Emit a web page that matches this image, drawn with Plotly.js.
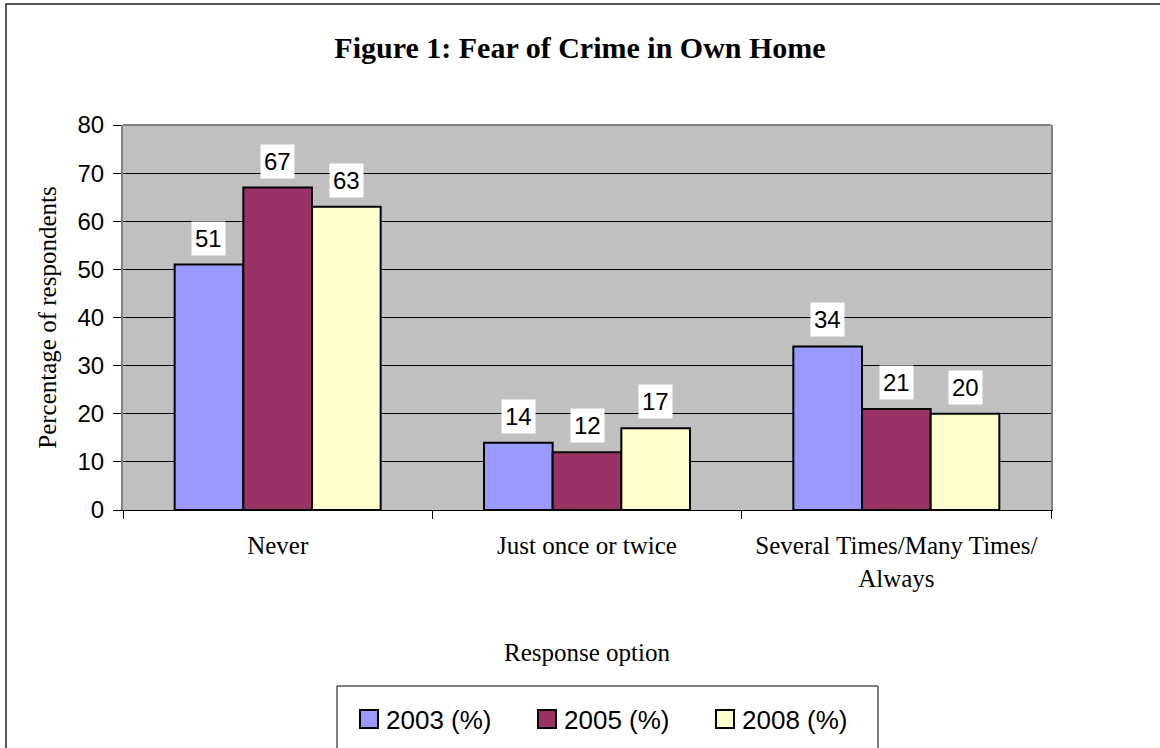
<!DOCTYPE html>
<html>
<head>
<meta charset="utf-8">
<script src="https://cdn.plot.ly/plotly-3.0.1.min.js"></script>
<style>html,body{margin:0;padding:0;background:#fff;}#chart{width:1160px;height:748px;}</style>
</head>
<body>
<div id="chart"></div>
<script>
// ---- data ----
const categories = ["Never", "Just once or twice", "Several Times/Many Times/<br>Always"];
const seriesNames = ["2003 (%)", "2005 (%)", "2008 (%)"];
const values2003 = [51, 14, 34];
const values2005 = [67, 12, 21];
const values2008 = [63, 17, 20];
const yTicks = [0, 10, 20, 30, 40, 50, 60, 70, 80];

// ---- styles ----
const seriesValues = [values2003, values2005, values2008];
const colors = ["#9999FF", "#993366", "#FFFFCC"];
const serif = "Liberation Serif, Times New Roman, serif";
const sans = "Arial, Liberation Sans, sans-serif";
const bargap = 0.334;

const traces = seriesValues.map((vals, i) => ({
  type: "bar",
  name: seriesNames[i],
  x: categories,
  y: vals,
  marker: { color: colors[i], line: { color: "#000", width: 2 } },
  hoverinfo: "skip"
}));

const barW = (1 - bargap) / seriesValues.length;
const annotations = [];
seriesValues.forEach((vals, i) => {
  vals.forEach((v, c) => {
    annotations.push({
      xref: "x", yref: "y",
      x: c + (i - (seriesValues.length - 1) / 2) * barW,
      y: v,
      text: String(v),
      showarrow: false,
      yanchor: "bottom",
      yshift: 9,
      bgcolor: "#FFFFFF",
      borderpad: 3,
      font: { family: sans, size: 24, color: "#000" }
    });
  });
});

const layout = {
  width: 1160, height: 748,
  margin: { l: 123, r: 109, t: 125, b: 238, pad: 0 },
  paper_bgcolor: "#FFFFFF",
  plot_bgcolor: "#C0C0C0",
  font: { family: sans, color: "#000" },
  barmode: "group",
  bargap: bargap,
  bargroupgap: 0,
  showlegend: true,
  title: {
    text: "Figure 1: Fear of Crime in Own Home",
    font: { family: serif, size: 30, weight: "bold", color: "#000" },
    xref: "container", x: 0.5, xanchor: "center",
    yref: "container", y: 1 - 47 / 748, yanchor: "middle"
  },
  xaxis: {
    type: "category",
    tickson: "boundaries",
    ticks: "outside", ticklen: 8, tickcolor: "#000", tickwidth: 1,
    showline: true, linecolor: "#000", linewidth: 1,
    showgrid: false, zeroline: false,
    tickfont: { family: serif, size: 25, color: "#000" },
    ticklabelstandoff: 13,
    title: { text: "Response option", font: { family: serif, size: 25, color: "#000" }, standoff: 52 },
    fixedrange: true
  },
  yaxis: {
    range: [0, 80],
    tickvals: yTicks,
    ticks: "outside", ticklen: 8, tickcolor: "#000", tickwidth: 1,
    showline: true, mirror: true, linecolor: "#808080", linewidth: 2,
    showgrid: true, gridcolor: "#000", gridwidth: 1,
    zeroline: false,
    tickfont: { family: sans, size: 24, color: "#000" },
    ticklabelstandoff: 4,
    title: { text: "Percentage of respondents", font: { family: serif, size: 25, color: "#000" }, standoff: 14 },
    fixedrange: true
  },
  legend: {
    orientation: "h",
    xref: "container", x: 613 / 1160, xanchor: "center",
    yref: "container", y: 1 - 719 / 748, yanchor: "middle",
    font: { family: sans, size: 26, color: "#000" },
    bgcolor: "rgba(0,0,0,0)", borderwidth: 0,
    entrywidth: 133, entrywidthmode: "pixels",
    traceorder: "normal"
  },
  annotations: annotations,
  shapes: [
    // plot area top edge (gray frame)
    { type: "line", xref: "paper", yref: "paper", x0: 0, x1: 1, y0: 1, y1: 1,
      line: { color: "#808080", width: 2 }, layer: "above" },
    // outer chart frame
    { type: "rect", xref: "paper", yref: "paper",
      x0: (6 - 123) / 928, x1: (1175 - 123) / 928,
      y0: (510 - 4) / 385, y1: (510 - 770) / 385,
      line: { color: "#222", width: 1.5 }, fillcolor: "rgba(0,0,0,0)", layer: "above" },
    // legend frame
    { type: "rect", xref: "paper", yref: "paper",
      x0: (337 - 123) / 928, x1: (878 - 123) / 928,
      y0: (510 - 686) / 385, y1: (510 - 770) / 385,
      line: { color: "#000", width: 1 }, fillcolor: "rgba(0,0,0,0)", layer: "above" }
  ]
};

Plotly.newPlot("chart", traces, layout, { staticPlot: true, displayModeBar: false }).then(gd => {
  // enlarge legend swatches to match the reference's larger squares
  gd.querySelectorAll(".legend .legendpoints path").forEach(p => {
    p.setAttribute("d", "M9,9H-9V-9H9Z");
    p.setAttribute("transform", "translate(23,0)");
  });
});
</script>
</body>
</html>
